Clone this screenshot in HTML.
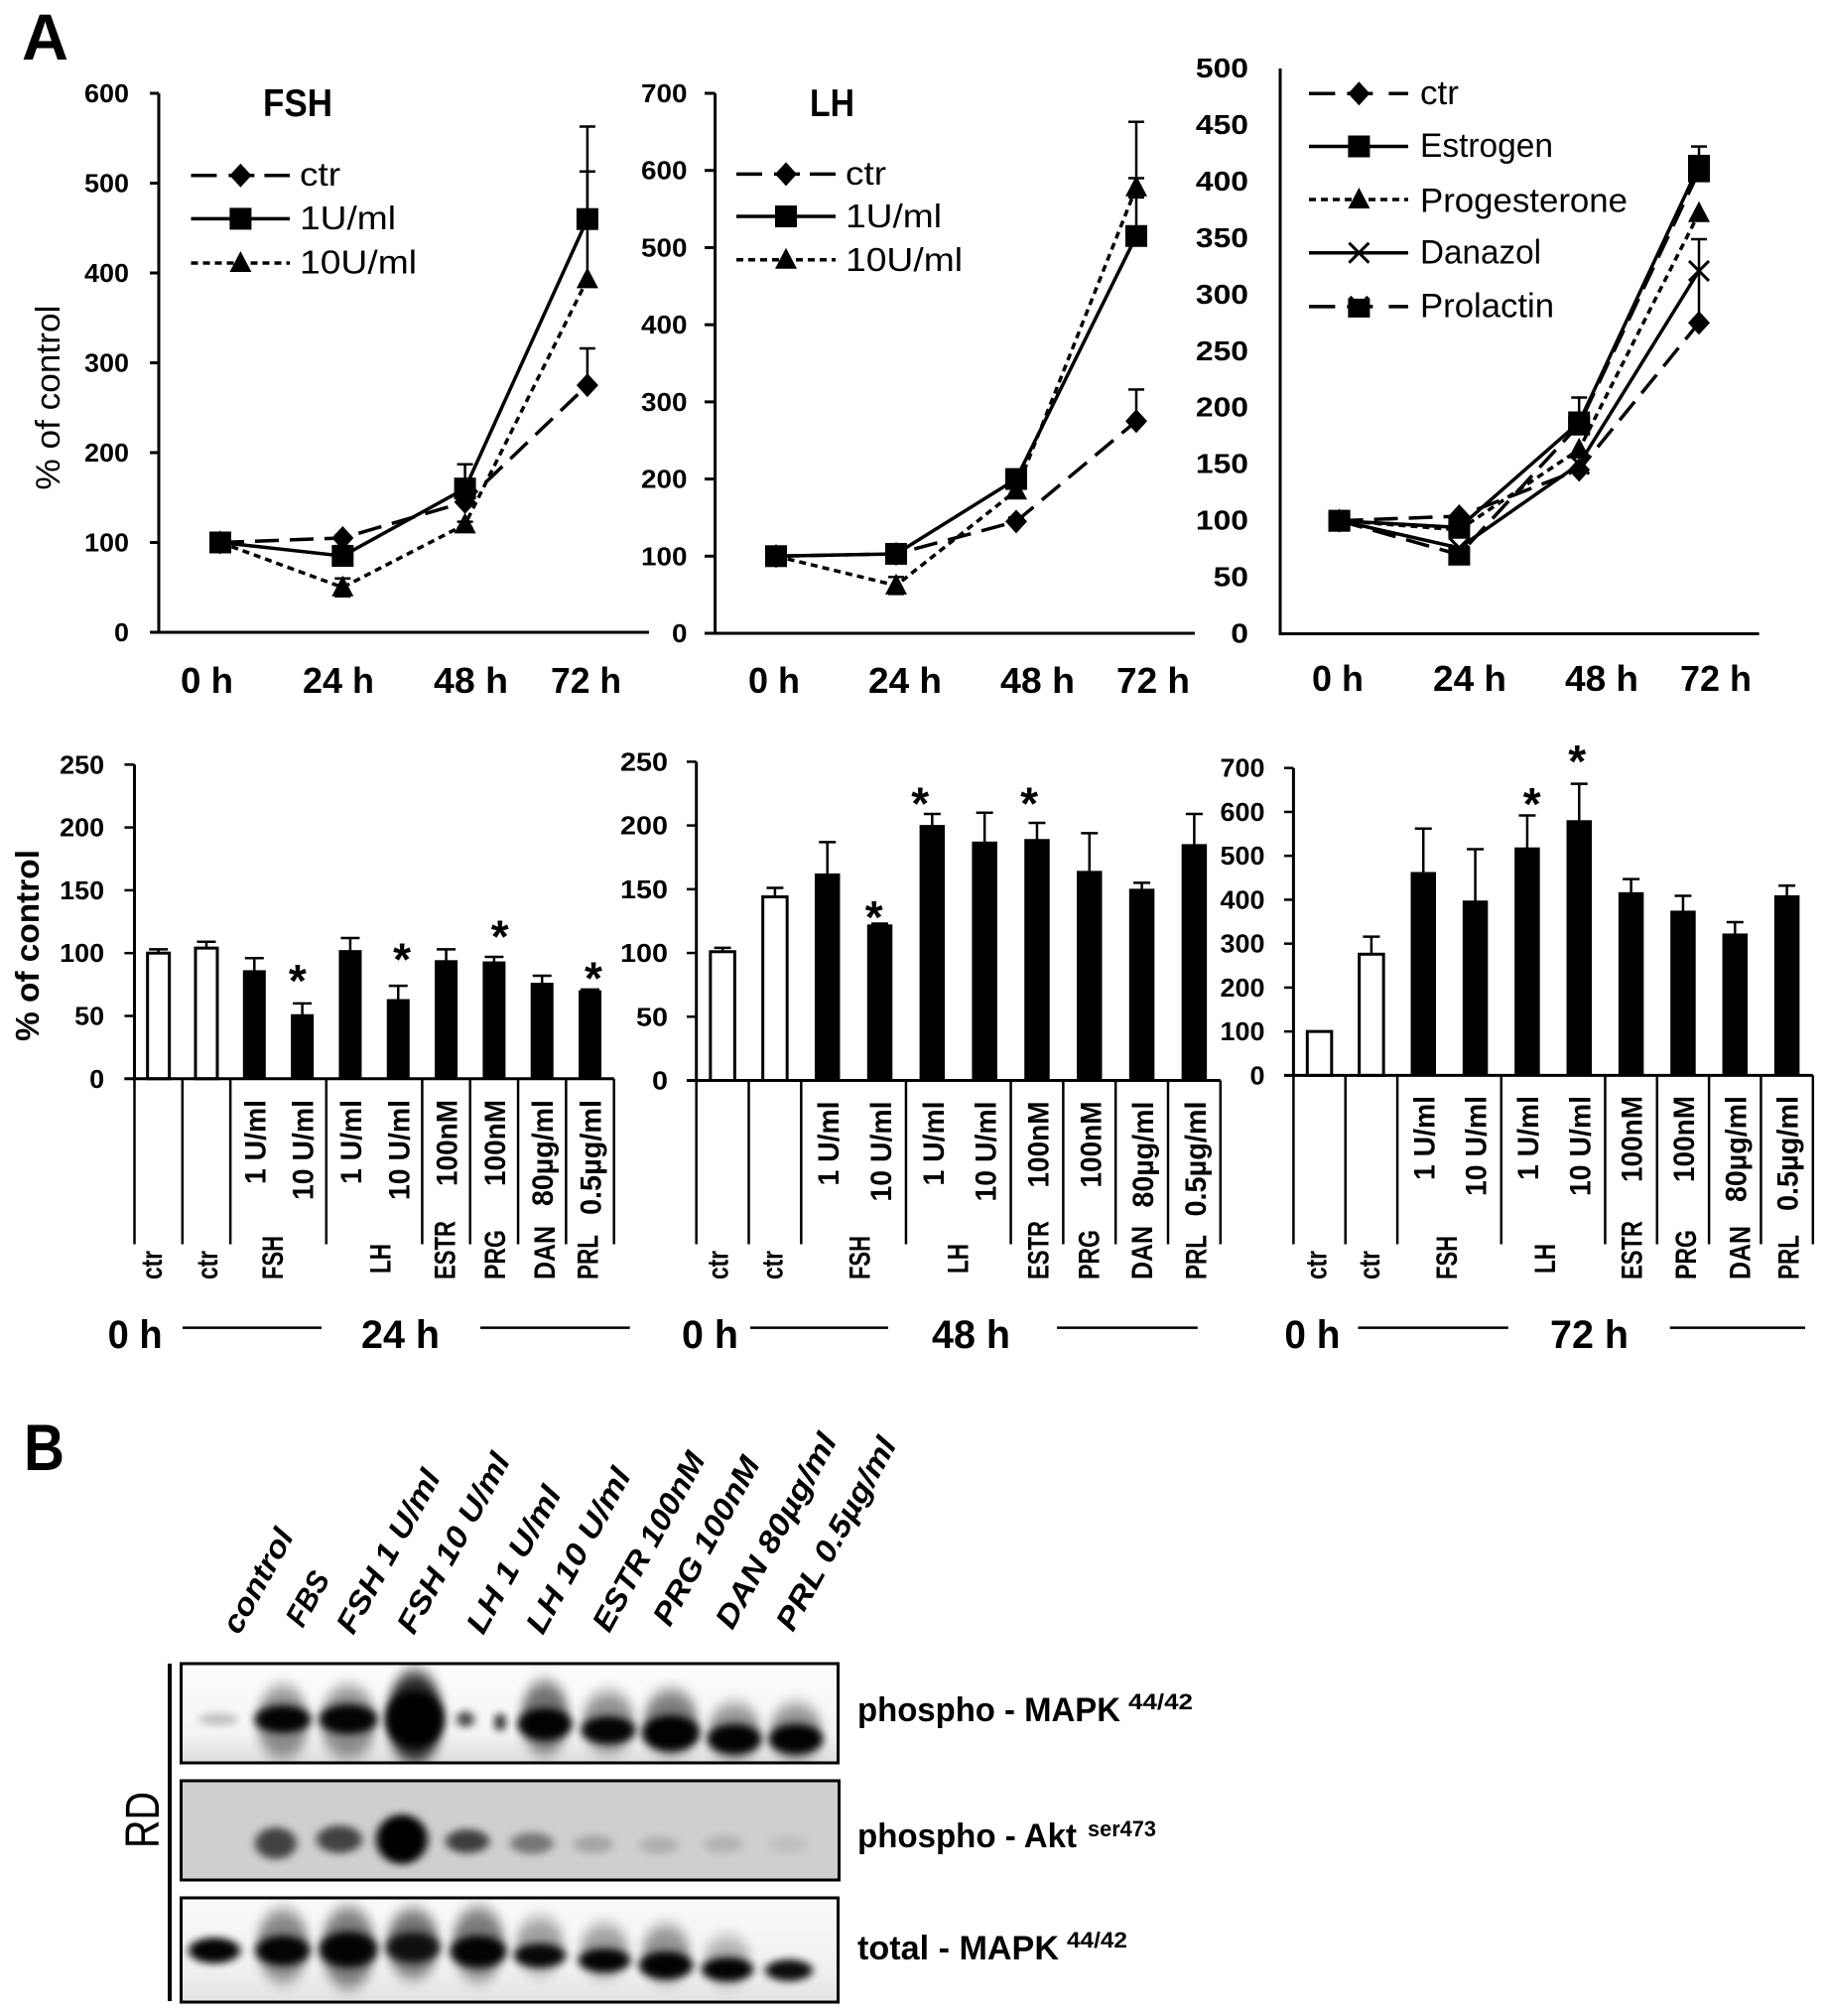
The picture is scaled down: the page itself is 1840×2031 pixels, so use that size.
<!DOCTYPE html>
<html lang="en">
<head>
<meta charset="utf-8">
<title>Cell proliferation and signalling figure</title>
<style>
html,body{margin:0;padding:0;background:#fff;width:1840px;height:2031px;overflow:hidden}
svg{display:block}
text{font-family:"Liberation Sans",sans-serif;fill:#000}
</style>
</head>
<body>
<svg id="fig" xmlns="http://www.w3.org/2000/svg" width="1840" height="2031" viewBox="0 0 1840 2031">
<defs>
<filter id="b1" x="-60%" y="-60%" width="220%" height="220%"><feGaussianBlur stdDeviation="4.5 4"/></filter>
<filter id="b2" x="-60%" y="-60%" width="220%" height="220%"><feGaussianBlur stdDeviation="5 8"/></filter>
<linearGradient id="g1" x1="0" y1="0" x2="0" y2="1"><stop offset="0" stop-color="#fdfdfd"/><stop offset="0.7" stop-color="#f4f4f4"/><stop offset="1" stop-color="#dcdcdc"/></linearGradient>
<linearGradient id="g3" x1="0" y1="0" x2="0" y2="1"><stop offset="0" stop-color="#fafafa"/><stop offset="0.7" stop-color="#f0f0f0"/><stop offset="1" stop-color="#e2e2e2"/></linearGradient>
<clipPath id="c1"><rect x="183" y="1677" width="661" height="98"/></clipPath>
<clipPath id="c2"><rect x="183" y="1795" width="661" height="98"/></clipPath>
<clipPath id="c3"><rect x="183" y="1914" width="661" height="102"/></clipPath>
</defs>

<text x="22" y="60" font-size="66" font-weight="700" textLength="47" lengthAdjust="spacingAndGlyphs">A</text>
<text x="24" y="1481" font-size="66" font-weight="700" textLength="41" lengthAdjust="spacingAndGlyphs">B</text>

<g font-size="31" font-weight="700" font-style="italic">
<text transform="translate(241 1648) rotate(-61)" textLength="115" lengthAdjust="spacingAndGlyphs">control</text>
<text transform="translate(305 1641) rotate(-61)" textLength="58" lengthAdjust="spacingAndGlyphs">FBS</text>
<text transform="translate(356 1648) rotate(-61)" textLength="183" lengthAdjust="spacingAndGlyphs">FSH 1 U/ml</text>
<text transform="translate(417 1648) rotate(-61)" textLength="202" lengthAdjust="spacingAndGlyphs">FSH 10 U/ml</text>
<text transform="translate(487 1648) rotate(-61)" textLength="164" lengthAdjust="spacingAndGlyphs">LH 1 U/ml</text>
<text transform="translate(547 1648) rotate(-61)" textLength="185" lengthAdjust="spacingAndGlyphs">LH 10 U/ml</text>
<text transform="translate(614 1646) rotate(-61)" textLength="201" lengthAdjust="spacingAndGlyphs">ESTR 100nM</text>
<text transform="translate(675 1640) rotate(-61)" textLength="189" lengthAdjust="spacingAndGlyphs">PRG 100nM</text>
<text transform="translate(738 1643) rotate(-61)" textLength="219" lengthAdjust="spacingAndGlyphs">DAN 80µg/ml</text>
<text transform="translate(799 1645) rotate(-61)" textLength="217" lengthAdjust="spacingAndGlyphs">PRL 0.5µg/ml</text>
</g>

<rect x="169" y="1676" width="4" height="340" fill="#000"/>
<text transform="translate(160 1862) rotate(-90)" font-size="48" textLength="57" lengthAdjust="spacingAndGlyphs">RD</text>

<g>
<rect x="182" y="1676" width="663" height="100" fill="url(#g1)"/>
<g clip-path="url(#c1)" fill="#000">
<ellipse cx="220" cy="1732" rx="20" ry="6" opacity=".22" filter="url(#b1)"/>
<ellipse cx="285" cy="1735" rx="26" ry="36" opacity=".42" filter="url(#b2)"/>
<ellipse cx="285" cy="1732" rx="28" ry="14" opacity=".97" filter="url(#b1)"/>
<ellipse cx="351" cy="1735" rx="28" ry="36" opacity=".42" filter="url(#b2)"/>
<ellipse cx="351" cy="1732" rx="29" ry="15" opacity=".97" filter="url(#b1)"/>
<ellipse cx="418" cy="1730" rx="28" ry="46" opacity=".85" filter="url(#b2)"/>
<ellipse cx="418" cy="1732" rx="29" ry="28" fill="#000" filter="url(#b1)"/>
<ellipse cx="469" cy="1732" rx="9" ry="8" opacity=".7" filter="url(#b1)"/>
<ellipse cx="504" cy="1735" rx="5" ry="9" opacity=".95" filter="url(#b1)"/>
<ellipse cx="549" cy="1730" rx="24" ry="36" opacity=".55" filter="url(#b2)"/>
<ellipse cx="549" cy="1737" rx="27" ry="16" opacity=".98" filter="url(#b1)"/>
<ellipse cx="613" cy="1735" rx="26" ry="30" opacity=".42" filter="url(#b2)"/>
<ellipse cx="613" cy="1743" rx="27" ry="14" opacity=".97" filter="url(#b1)"/>
<ellipse cx="676" cy="1735" rx="27" ry="32" opacity=".5" filter="url(#b2)"/>
<ellipse cx="676" cy="1746" rx="29" ry="18" opacity=".98" filter="url(#b1)"/>
<ellipse cx="740" cy="1745" rx="26" ry="28" opacity=".42" filter="url(#b2)"/>
<ellipse cx="740" cy="1752" rx="27" ry="15" opacity=".98" filter="url(#b1)"/>
<ellipse cx="802" cy="1745" rx="26" ry="28" opacity=".42" filter="url(#b2)"/>
<ellipse cx="802" cy="1752" rx="27" ry="15" opacity=".98" filter="url(#b1)"/>
</g>
<rect x="182.5" y="1676" width="662" height="100" fill="none" stroke="#000" stroke-width="3"/>
</g>

<g>
<rect x="182" y="1794" width="663" height="100" fill="#cfcfcf"/>
<g clip-path="url(#c2)" fill="#000">
<ellipse cx="278" cy="1857" rx="21" ry="16" opacity=".68" filter="url(#b1)"/>
<ellipse cx="342" cy="1853" rx="23" ry="14" opacity=".68" filter="url(#b1)"/>
<ellipse cx="405" cy="1853" rx="26" ry="25" fill="#000" filter="url(#b1)"/>
<ellipse cx="471" cy="1855" rx="22" ry="12" opacity=".7" filter="url(#b1)"/>
<ellipse cx="536" cy="1857" rx="22" ry="11" opacity=".42" filter="url(#b1)"/>
<ellipse cx="598" cy="1858" rx="20" ry="9" opacity=".2" filter="url(#b1)"/>
<ellipse cx="664" cy="1859" rx="20" ry="9" opacity=".15" filter="url(#b1)"/>
<ellipse cx="729" cy="1858" rx="20" ry="9" opacity=".13" filter="url(#b1)"/>
<ellipse cx="794" cy="1858" rx="20" ry="9" opacity=".07" filter="url(#b1)"/>
</g>
<rect x="182.5" y="1794" width="663" height="100" fill="none" stroke="#000" stroke-width="3"/>
</g>

<g>
<rect x="182" y="1912" width="663" height="105" fill="url(#g3)"/>
<g clip-path="url(#c3)" fill="#000">
<ellipse cx="216" cy="1965" rx="26" ry="13" opacity=".98" filter="url(#b1)"/>
<ellipse cx="285" cy="1960" rx="26" ry="36" opacity=".45" filter="url(#b2)"/>
<ellipse cx="285" cy="1965" rx="27" ry="15" opacity=".97" filter="url(#b1)"/>
<ellipse cx="351" cy="1962" rx="27" ry="40" opacity=".5" filter="url(#b2)"/>
<ellipse cx="351" cy="1964" rx="29" ry="18" opacity=".97" filter="url(#b1)"/>
<ellipse cx="416" cy="1958" rx="26" ry="34" opacity=".55" filter="url(#b2)"/>
<ellipse cx="416" cy="1962" rx="27" ry="15" opacity=".85" filter="url(#b1)"/>
<ellipse cx="482" cy="1958" rx="26" ry="36" opacity=".5" filter="url(#b2)"/>
<ellipse cx="482" cy="1966" rx="28" ry="16" opacity=".97" filter="url(#b1)"/>
<ellipse cx="544" cy="1960" rx="24" ry="28" opacity=".35" filter="url(#b2)"/>
<ellipse cx="544" cy="1970" rx="26" ry="12" opacity=".95" filter="url(#b1)"/>
<ellipse cx="609" cy="1965" rx="24" ry="26" opacity=".35" filter="url(#b2)"/>
<ellipse cx="609" cy="1975" rx="26" ry="12" opacity=".97" filter="url(#b1)"/>
<ellipse cx="671" cy="1968" rx="24" ry="28" opacity=".4" filter="url(#b2)"/>
<ellipse cx="671" cy="1980" rx="27" ry="14" opacity=".98" filter="url(#b1)"/>
<ellipse cx="733" cy="1975" rx="23" ry="24" opacity=".28" filter="url(#b2)"/>
<ellipse cx="733" cy="1984" rx="26" ry="12" opacity=".98" filter="url(#b1)"/>
<ellipse cx="795" cy="1985" rx="24" ry="11" opacity=".95" filter="url(#b1)"/>
</g>
<rect x="182.5" y="1912" width="662" height="105" fill="none" stroke="#000" stroke-width="3"/>
</g>

<g font-weight="700">
<text x="864" y="1734" font-size="34" textLength="265" lengthAdjust="spacingAndGlyphs">phospho - MAPK</text>
<text x="1137" y="1722" font-size="22" textLength="65" lengthAdjust="spacingAndGlyphs">44/42</text>
<text x="864" y="1861" font-size="34" textLength="221" lengthAdjust="spacingAndGlyphs">phospho - Akt</text>
<text x="1096" y="1850" font-size="22" textLength="69" lengthAdjust="spacingAndGlyphs">ser473</text>
<text x="864" y="1974" font-size="34" textLength="203" lengthAdjust="spacingAndGlyphs">total - MAPK</text>
<text x="1075" y="1962" font-size="22" textLength="61" lengthAdjust="spacingAndGlyphs">44/42</text>
</g>
</svg>

<script>
// ---------- line-chart data ----------
const timeLabels = ['0 h', '24 h', '48 h', '72 h'];

const fshTicks = [0, 100, 200, 300, 400, 500, 600];
const fshCtr = [100, 105, 145, 275];
const fshCtrErr = [null, 108, 150, 316];
const fsh1U = [100, 85, 160, 460];
const fsh1UErr = [null, 96, 187, 563];
const fsh10U = [100, 50, 120, 393];
const fsh10UErr = [null, 60, 123, 513];
const fsh10ULow = [null, 40, 116, 385];

const lhTicks = [0, 100, 200, 300, 400, 500, 600, 700];
const lhCtr = [100, 103, 145, 275];
const lhCtrErr = [null, 106, 150, 316];
const lh1U = [100, 103, 200, 515];
const lh1UErr = [null, 108, 210, 590];
const lh10U = [100, 62, 185, 578];
const lh10UErr = [null, 73, 192, 663];
const lh10ULow = [null, 51, 178, 565];

const hormoneTicks = [0, 50, 100, 150, 200, 250, 300, 350, 400, 450, 500];
const hormoneCtr = [100, 104, 145, 275];
const hormoneCtrErr = [null, null, null, 349];
const hormoneEstrogen = [100, 94, 187, 414];
const hormoneEstrogenErr = [null, null, 209, 431];
const hormoneProgesterone = [100, 92, 163, 372];
const hormoneDanazol = [100, 76, 150, 321];
const hormoneProlactin = [100, 70, 185, 409];
const emptyErr = [null, null, null, null];

// ---------- bar-chart data ----------
const barCategories = ['ctr', 'ctr', 'FSH 1', 'FSH 10', 'LH 1', 'LH 10', 'ESTR', 'PRG', 'DAN', 'PRL'];
const doseLabels = ['1 U/ml', '10 U/ml', '1 U/ml', '10 U/ml', '100nM', '100nM', '80µg/ml', '0.5µg/ml'];
const groupLabels = ['ctr', 'ctr', 'FSH', 'LH', 'ESTR', 'PRG', 'DAN', 'PRL'];

const ticks24 = [0, 50, 100, 150, 200, 250];
const values24 = [100, 104, 86, 51, 102, 63, 94, 93, 76, 70];
const errors24 = [103, 109, 96, 60, 112, 74, 103, 97, 82, 71];
const starSlots24 = [2.9, 5.08, 7.12, 9.07];
const starLevels24 = [82, 99, 117, 84];

const ticks48 = [0, 50, 100, 150, 200, 250];
const values48 = [101, 144, 162, 122, 200, 187, 189, 164, 150, 185];
const errors48 = [104, 151, 187, 123, 209, 210, 202, 194, 155, 209];
const starSlots48 = [2.89, 3.77, 5.85];
const starLevels48 = [132, 221, 221];

const ticks72 = [0, 100, 200, 300, 400, 500, 600, 700];
const values72 = [100, 276, 462, 397, 518, 580, 416, 374, 322, 409];
const errors72 = [100, 316, 562, 515, 592, 664, 447, 409, 349, 432];
const starSlots72 = [4.09, 4.96];
const starLevels72 = [629, 726];

// ---------- drawing helpers ----------
const NS = 'http://www.w3.org/2000/svg';
const fig = document.getElementById('fig');
const DASH = { long: '24 11', short: '7 5', solid: null };

function mk(tag, parent, attrs, name) {
  const el = document.createElementNS(NS, tag);
  for (const k in attrs) el.setAttribute(k, attrs[k]);
  
  
  parent.appendChild(el);
  return el;
}
function line(p, x1, y1, x2, y2, w, name, dash) {
  const attrs = { x1: x1, y1: y1, x2: x2, y2: y2, stroke: '#000', 'stroke-width': w };
  if (dash) attrs['stroke-dasharray'] = dash;
  return mk('line', p, attrs, name);
}
function text(p, s, x, y, size, weight, len, name, anchor, rot) {
  const attrs = { x: x, y: y, 'font-size': size, 'font-weight': weight, 'text-anchor': anchor || 'start' };
  if (len) { attrs.textLength = len; attrs.lengthAdjust = 'spacingAndGlyphs'; }
  if (rot) attrs.transform = 'rotate(' + rot + ' ' + x + ' ' + y + ')';
  const el = mk('text', p, attrs, name);
  el.textContent = s;
  return el;
}
function marker(p, kind, x, y, name) {
  if (kind === 'diamond') {
    mk('polygon', p, { points: [x, y - 12, x + 11, y, x, y + 12, x - 11, y].join(' '), fill: '#000' }, name);
  } else if (kind === 'square') {
    mk('rect', p, { x: x - 11, y: y - 11, width: 22, height: 22, fill: '#000' }, name);
  } else if (kind === 'triangle') {
    mk('polygon', p, { points: [x, y - 12, x + 11, y + 9, x - 11, y + 9].join(' '), fill: '#000' }, name);
  } else if (kind === 'cross') {
    mk('path', p, { d: 'M' + (x - 10) + ' ' + (y - 10) + 'L' + (x + 10) + ' ' + (y + 10) + 'M' + (x + 10) + ' ' + (y - 10) + 'L' + (x - 10) + ' ' + (y + 10), stroke: '#000', 'stroke-width': 3, fill: 'none' }, name);
  } else if (kind === 'notched') {
    mk('path', p, { d: 'M' + (x - 11) + ' ' + (y - 8) + 'L' + (x - 8) + ' ' + (y - 11) + 'L' + (x - 5) + ' ' + (y - 8) + 'L' + (x + 5) + ' ' + (y - 8) + 'L' + (x + 8) + ' ' + (y - 11) + 'L' + (x + 11) + ' ' + (y - 8) + 'L' + (x + 11) + ' ' + (y + 11) + 'L' + (x - 11) + ' ' + (y + 11) + 'Z', fill: '#000' }, name);
  }
}

// ---------- line chart ----------
function lineChart(c) {
  const g = mk('g', fig, {}, c.name);
  const max = c.ticks[c.ticks.length - 1];
  const y = v => c.y0 - (v / max) * (c.y0 - c.yTop);
  const x = i => c.x0 + i * c.step;
  line(g, c.axisX, c.yTop, c.axisX, c.y0 + 1.5, 3, 'y-axis');
  line(g, c.tickLeft, c.y0, c.xEnd, c.y0, 3, 'x-axis');
  c.ticks.forEach(t => {
    if (c.showTicks) line(g, c.tickLeft, y(t), c.axisX, y(t), 3, 'y-tick');
    text(g, String(t), c.labelRight, y(t) + 9, c.tickSize, 700, String(t).length * c.digitW, 'y-tick-label', 'end');
  });
  timeLabels.forEach((s, i) => {
    text(g, s, c.timeX[i], c.timeY, 36, 700, c.timeW[i], 'x-tick-label', 'middle');
  });
  c.series.forEach(s => {
    s.err.forEach((e, i) => {
      if (e === null) return;
      line(g, x(i), y(e), x(i), y(s.vals[i]), 2.5, 'error-bar');
      line(g, x(i) - 8, y(e), x(i) + 8, y(e), 2.5, 'error-cap');
      if (s.low && s.low[i] !== null) {
        line(g, x(i), y(s.low[i]), x(i), y(s.vals[i]), 2.5, 'error-bar');
        line(g, x(i) - 8, y(s.low[i]), x(i) + 8, y(s.low[i]), 2.5, 'error-cap');
      }
    });
  });
  c.series.forEach(s => {
    const pts = s.vals.map((v, i) => x(i) + ',' + y(v)).join(' ');
    const attrs = { points: pts, fill: 'none', stroke: '#000', 'stroke-width': 3.5 };
    if (DASH[s.dash]) attrs['stroke-dasharray'] = DASH[s.dash];
    mk('polyline', g, attrs, 'series-line-' + s.key);
    s.vals.forEach((v, i) => marker(g, s.marker, x(i), y(v), 'series-point-' + s.key));
  });
  c.series.forEach((s, i) => {
    const L = c.legend;
    const ly = L.lineY[i];
    if (s.dash === 'long') {
      line(g, L.x1, ly, L.mx - L.gapL, ly, 3.5, 'legend-line-' + s.key);
      line(g, L.mx + L.gapR, ly, L.x2, ly, 3.5, 'legend-line-' + s.key);
      line(g, L.mx - 12, ly, L.mx + 14, ly, 3.5, 'legend-line-' + s.key);
    } else {
      line(g, L.x1, ly, L.x2, ly, 3.5, 'legend-line-' + s.key, DASH[s.dash]);
    }
    marker(g, s.marker, L.mx, ly, 'legend-marker-' + s.key);
    text(g, s.label, L.tx, L.base[i], L.size, 400, L.tw[i], 'legend-label-' + s.key);
  });
  if (c.title) text(g, c.title, c.titleX, 117, 39, 700, c.titleW, 'chart-title');
}

lineChart({
  name: 'fsh-time-course-chart', ticks: fshTicks, y0: 637, yTop: 94, axisX: 160, tickLeft: 151, xEnd: 654,
  x0: 222, step: 123.3, showTicks: true, labelRight: 130, tickSize: 26, digitW: 15,
  timeX: [208.5, 341, 474.5, 590.5], timeW: [53, 72, 75, 71], timeY: 698,
  title: 'FSH', titleX: 265, titleW: 70,
  legend: { x1: 192.5, x2: 292, mx: 242.4, tx: 302, gapL: 24, gapR: 24, size: 33, lineY: [176.8, 220.4, 265], base: [187, 231, 275.5], tw: [41, 97, 118] },
  series: [
    { key: 'ctr', label: 'ctr', vals: fshCtr, err: fshCtrErr, marker: 'diamond', dash: 'long' },
    { key: '1u-ml', label: '1U/ml', vals: fsh1U, err: fsh1UErr, marker: 'square', dash: 'solid' },
    { key: '10u-ml', label: '10U/ml', vals: fsh10U, err: fsh10UErr, low: fsh10ULow, marker: 'triangle', dash: 'short' }
  ]
});
lineChart({
  name: 'lh-time-course-chart', ticks: lhTicks, y0: 638, yTop: 94, axisX: 720.6, tickLeft: 710, xEnd: 1204,
  x0: 782, step: 121, showTicks: true, labelRight: 692.5, tickSize: 26, digitW: 15.5,
  timeX: [780, 912, 1045.5, 1162], timeW: [52, 74, 75, 74], timeY: 698,
  title: 'LH', titleX: 816, titleW: 45,
  legend: { x1: 742, x2: 842, mx: 792, tx: 852, gapL: 24, gapR: 24, size: 33, lineY: [175.4, 218, 261.7], base: [186, 229, 273], tw: [41, 97, 118] },
  series: [
    { key: 'ctr', label: 'ctr', vals: lhCtr, err: lhCtrErr, marker: 'diamond', dash: 'long' },
    { key: '1u-ml', label: '1U/ml', vals: lh1U, err: lh1UErr, marker: 'square', dash: 'solid' },
    { key: '10u-ml', label: '10U/ml', vals: lh10U, err: lh10UErr, low: lh10ULow, marker: 'triangle', dash: 'short' }
  ]
});
lineChart({
  name: 'hormone-time-course-chart', ticks: hormoneTicks, y0: 638.5, yTop: 69, axisX: 1290, tickLeft: 1290, xEnd: 1772.6,
  x0: 1349.6, step: 120.8, showTicks: false, labelRight: 1258, tickSize: 28, digitW: 17.7,
  timeX: [1348, 1481, 1614, 1729], timeW: [52, 74, 74, 72], timeY: 696,
  legend: { x1: 1319, x2: 1419, mx: 1369.4, tx: 1431, gapL: 24, gapR: 30, size: 34, lineY: [94.2, 147.5, 201, 254.7, 308.9], base: [105, 158, 213.5, 265.5, 319.7], tw: [39, 134, 209, 122, 135] },
  series: [
    { key: 'ctr', label: 'ctr', vals: hormoneCtr, err: hormoneCtrErr, marker: 'diamond', dash: 'long' },
    { key: 'estrogen', label: 'Estrogen', vals: hormoneEstrogen, err: hormoneEstrogenErr, marker: 'square', dash: 'solid' },
    { key: 'progesterone', label: 'Progesterone', vals: hormoneProgesterone, err: emptyErr, marker: 'triangle', dash: 'short' },
    { key: 'danazol', label: 'Danazol', vals: hormoneDanazol, err: emptyErr, marker: 'cross', dash: 'solid' },
    { key: 'prolactin', label: 'Prolactin', vals: hormoneProlactin, err: emptyErr, marker: 'notched', dash: 'long' }
  ]
});
text(fig, '% of control', 60, 493.6, 34, 400, 186, 'y-axis-title-line-chart', 'start', -90);

// ---------- bar chart ----------
const doseLen = { '1 U/ml': 85, '10 U/ml': 101, '100nM': 87, '80µg/ml': 107, '0.5µg/ml': 116 };
const groupLen = { ctr: 29, FSH: 44, LH: 30, ESTR: 59, PRG: 50, DAN: 54, PRL: 45 };
const dividerSlots = [0, 1, 2, 4, 6, 7, 8, 9, 10];

function barChart(c) {
  const g = mk('g', fig, {}, c.name);
  const max = c.ticks[c.ticks.length - 1];
  const y = v => c.y0 - (v / max) * (c.y0 - c.yTop);
  const step = (c.xEnd - c.axisX) / barCategories.length;
  const cx = i => c.axisX + (i + 0.5) * step;
  line(g, c.axisX, c.yTop, c.axisX, c.y0, 3, 'y-axis');
  c.ticks.forEach(t => {
    line(g, c.tickLeft, y(t), c.axisX, y(t), 2.5, 'y-tick');
    text(g, String(t), c.labelRight, y(t) + 9, 26, 700, String(t).length * c.digitW, 'y-tick-label', 'end');
  });
  dividerSlots.forEach(s => {
    const dx = c.axisX + s * step;
    line(g, dx, c.y0, dx, 1253.5, 2.5, 'category-divider');
  });
  c.values.forEach((v, i) => {
    const x = cx(i);
    const open = i < 2;
    if (c.errors[i] > v) {
      line(g, x, y(c.errors[i]), x, y(v), 2.5, 'error-bar');
      line(g, x - c.capW, y(c.errors[i]), x + c.capW, y(c.errors[i]), 2.5, 'error-cap');
    }
    mk('rect', g, {
      x: x - c.barW / 2, y: y(v), width: c.barW, height: c.y0 - y(v),
      fill: open ? '#fff' : '#000', stroke: '#000', 'stroke-width': open ? 3 : 1
    }, 'bar-' + barCategories[i].toLowerCase().replace(' ', '-'));
  });
  line(g, c.tickLeft, c.y0, c.xEnd, c.y0, 3, 'x-axis');
  c.starSlots.forEach((s, i) => {
    text(g, '*', cx(s), y(c.starLevels[i]) + 21, 46, 700, null, 'significance-asterisk', 'middle');
  });
  doseLabels.forEach((s, i) => {
    const x = cx(i + 2) + c.doseShift;
    text(g, s, x, c.doseTop + doseLen[s], 30, 700, doseLen[s], 'dose-label', 'start', -90);
  });
  groupLabels.forEach((s, i) => {
    const yy = s === 'LH' ? 1283 : 1289;
    text(g, s, c.groupX[i], yy, 30, 700, groupLen[s], 'group-label', 'start', -90);
  });
  text(g, '0 h', c.zeroX, 1358, 40, 700, c.zeroW, 'baseline-time-label');
  text(g, c.timeLabel, c.timeX, 1358, 40, 700, 79, 'treatment-time-label');
  line(g, c.rule1[0], 1337.6, c.rule1[1], 1337.6, 2.5, 'time-rule');
  line(g, c.rule2[0], 1337.6, c.rule2[1], 1337.6, 2.5, 'time-rule');
}

barChart({
  name: 'bars-24h-chart', ticks: ticks24, values: values24, errors: errors24, starSlots: starSlots24, starLevels: starLevels24,
  y0: 1086.8, yTop: 770.3, axisX: 135.5, xEnd: 618.7, tickLeft: 125.4, labelRight: 105.2, digitW: 15,
  barW: 22, capW: 9.5, doseTop: 1108, doseShift: 11,
  groupX: [163, 219, 285, 393.5, 458.7, 509, 559, 602.7],
  zeroX: 108.6, zeroW: 55, timeLabel: '24 h', timeX: 364, rule1: [184, 324], rule2: [484, 634.7]
});
barChart({
  name: 'bars-48h-chart', ticks: ticks48, values: values48, errors: errors48, starSlots: starSlots48, starLevels: starLevels48,
  y0: 1088.5, yTop: 767.4, axisX: 701.7, xEnd: 1229.8, tickLeft: 692, labelRight: 673, digitW: 16,
  barW: 24.5, capW: 8.5, doseTop: 1109.5, doseShift: 11.5,
  groupX: [733.4, 788.5, 876.6, 975.3, 1056.4, 1107.3, 1161, 1215.6],
  zeroX: 687, zeroW: 57, timeLabel: '48 h', timeX: 939, rule1: [756, 895], rule2: [1065, 1206.8]
});
barChart({
  name: 'bars-72h-chart', ticks: ticks72, values: values72, errors: errors72, starSlots: starSlots72, starLevels: starLevels72,
  y0: 1083.4, yTop: 773.7, axisX: 1303.4, xEnd: 1826.8, tickLeft: 1294, labelRight: 1274.5, digitW: 15,
  barW: 24.5, capW: 8.5, doseTop: 1104, doseShift: 11,
  groupX: [1336.5, 1390, 1468, 1567, 1654.4, 1709, 1763.5, 1812.5],
  zeroX: 1294.4, zeroW: 56, timeLabel: '72 h', timeX: 1562, rule1: [1368.5, 1519.8], rule2: [1682.7, 1819]
});
text(fig, '% of control', 39, 1049, 33, 700, 193, 'y-axis-title-bar-chart', 'start', -90);
</script>
</body>
</html>
